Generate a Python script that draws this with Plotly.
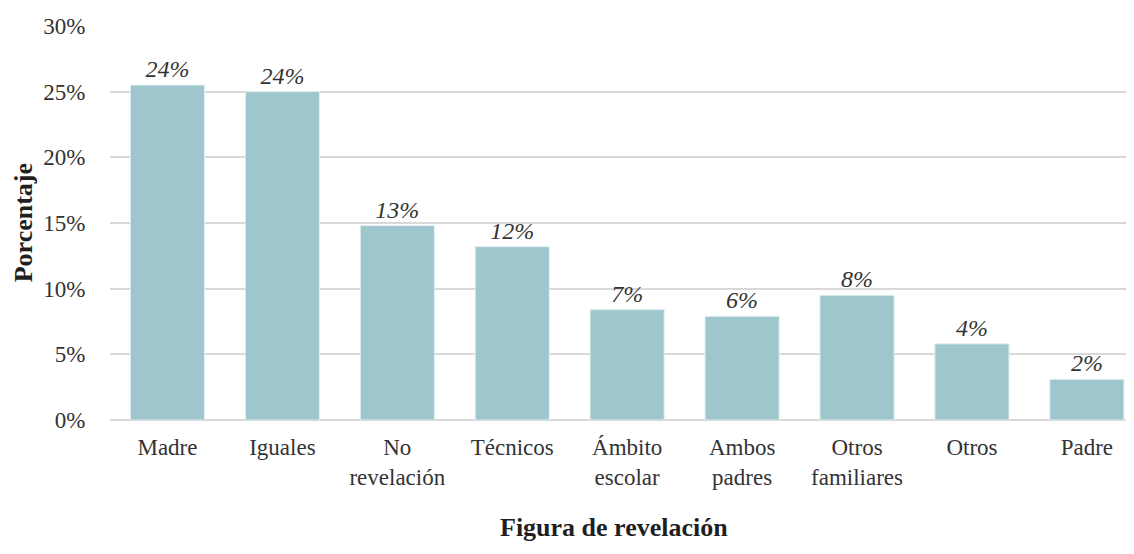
import plotly.graph_objects as go

# Data
categorias = ['Madre', 'Iguales', 'No<br>revelación', 'Técnicos', 'Ámbito<br>escolar',
              'Ambos<br>padres', 'Otros<br>familiares', 'Otros', 'Padre']
porcentajes = [25.5, 25.0, 14.8, 13.2, 8.4, 7.9, 9.5, 5.8, 3.1]
etiquetas = ['24%', '24%', '13%', '12%', '7%', '6%', '8%', '4%', '2%']
y_ticks = [0, 5, 10, 15, 20, 25, 30]
y_ticklabels = ['0%', '5%', '10%', '15%', '20%', '25%', '30%']

font_fam = 'Liberation Serif, Times New Roman, serif'
txt_color = '#333333'

fig = go.Figure(go.Bar(
    x=categorias,
    y=porcentajes,
    text=etiquetas,
    textposition='outside',
    cliponaxis=False,
    textfont=dict(family=font_fam, size=24, color=txt_color, style='italic'),
    marker=dict(color='#9dc6cd', line=dict(color='#e4eff1', width=1)),
    width=0.645,
))

# the page adds an 8px body margin, so the figure is 8px smaller than the window
fig.update_layout(
    width=1126, height=546,
    margin=dict(l=102, r=0, t=18, b=134),
    paper_bgcolor='white',
    plot_bgcolor='white',
    showlegend=False,
    font=dict(family=font_fam, size=23, color=txt_color),
    xaxis=dict(
        range=[-0.5, 8.41],
        showgrid=False,
        showline=False,
        ticks='outside', ticklen=6, tickcolor='rgba(0,0,0,0)',
        tickfont=dict(size=23, color=txt_color),
    ),
    yaxis=dict(
        range=[0, 30],
        tickvals=y_ticks,
        ticktext=y_ticklabels,
        showgrid=True, gridcolor='#d9d9d9', gridwidth=2,
        zeroline=True, zerolinecolor='#d9d9d9', zerolinewidth=2,
        showline=False,
        ticks='outside', ticklen=19, tickcolor='rgba(0,0,0,0)',
        tickfont=dict(size=23, color=txt_color),
    ),
    annotations=[
        dict(text='<b>Porcentaje</b>', xref='paper', yref='paper',
             x=-0.0843, y=0.501, xanchor='center', yanchor='middle',
             textangle=-90, showarrow=False,
             font=dict(family=font_fam, size=26, color='#1f1f1f')),
        dict(text='<b>Figura de revelación</b>', xref='paper', yref='paper',
             x=0.492, y=-0.2716, xanchor='center', yanchor='middle',
             showarrow=False,
             font=dict(family=font_fam, size=26, color='#1f1f1f')),
    ],
)

fig.write_html('out.html')
